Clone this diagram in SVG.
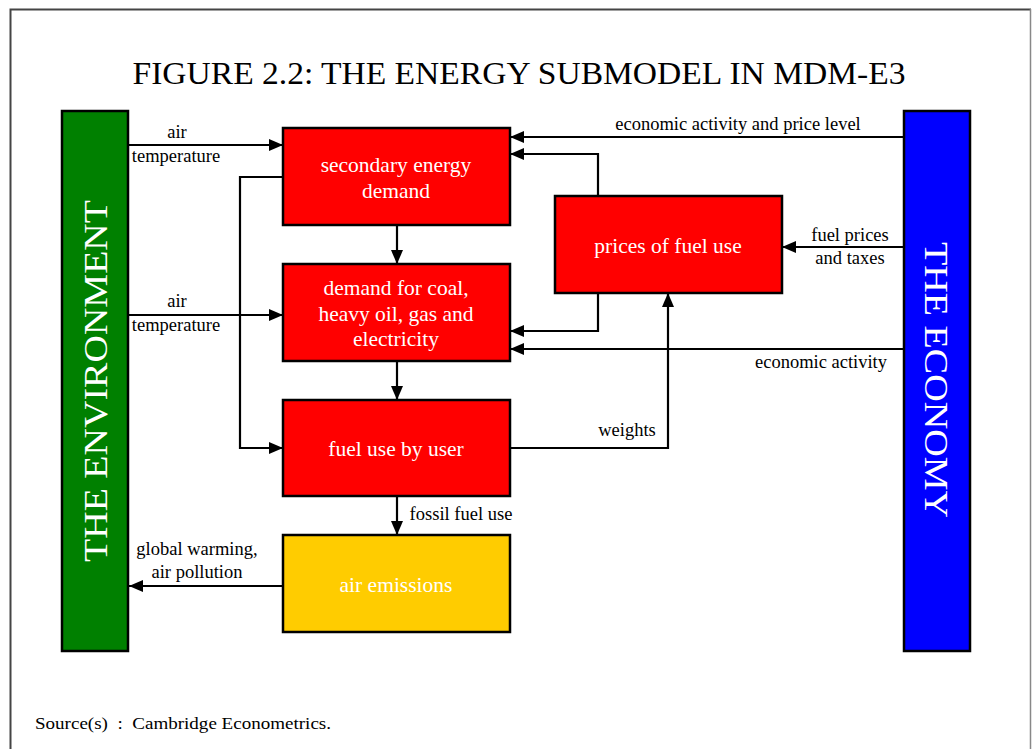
<svg xmlns="http://www.w3.org/2000/svg" width="1032" height="749" viewBox="0 0 1032 749">
<style>
.lbl{font-family:"Liberation Serif","Times New Roman",serif;font-size:18.5px;fill:#000;text-anchor:middle}
.box{stroke:#000;stroke-width:2.5}
.btxt{font-family:"Liberation Serif","Times New Roman",serif;font-size:21.5px;fill:#fff;text-anchor:middle}
.bar{font-family:"Liberation Serif","Times New Roman",serif;font-size:34px;fill:#fff;text-anchor:middle}
.ln{fill:none;stroke:#000;stroke-width:2.2}
</style>
<defs>
<marker id="ah" viewBox="0 0 14 12" refX="14" refY="6" markerWidth="14" markerHeight="12" markerUnits="userSpaceOnUse" orient="auto">
<path d="M0,0 L14,6 L0,12 Z" fill="#000"/>
</marker>
</defs>
<rect x="0" y="0" width="1032" height="749" fill="#fff"/>
<path d="M10.5,749 V9.5 H1031" fill="none" stroke="#444" stroke-width="2"/>
<line x1="1030.5" y1="9" x2="1030.5" y2="749" stroke="#888" stroke-width="1.5"/>
<text x="519" y="84" font-family="Liberation Serif, Times New Roman, serif" font-size="31" text-anchor="middle" textLength="773" lengthAdjust="spacingAndGlyphs">FIGURE 2.2: THE ENERGY SUBMODEL IN MDM-E3</text>

<g id="environment">
<rect x="62" y="111" width="66" height="540" fill="#008000" class="box"/>
<text class="bar" transform="translate(107,381) rotate(-90)" textLength="362" lengthAdjust="spacingAndGlyphs">THE ENVIRONMENT</text>
</g>
<g id="economy">
<rect x="904" y="111" width="66" height="540" fill="#0000ff" class="box"/>
<text class="bar" transform="translate(925,380) rotate(90)" textLength="276" lengthAdjust="spacingAndGlyphs">THE ECONOMY</text>
</g>
<g id="secondary">
<rect x="283" y="128" width="227" height="97" fill="#ff0000" class="box"/>
<text class="btxt" x="396" y="172">secondary energy</text>
<text class="btxt" x="396" y="198">demand</text>
</g>
<g id="demand">
<rect x="283" y="264" width="227" height="97" fill="#ff0000" class="box"/>
<text class="btxt" x="396" y="295">demand for coal,</text>
<text class="btxt" x="396" y="321">heavy oil, gas and</text>
<text class="btxt" x="396" y="346">electricity</text>
</g>
<g id="fueluse">
<rect x="283" y="400" width="227" height="96" fill="#ff0000" class="box"/>
<text class="btxt" x="396" y="456">fuel use by user</text>
</g>
<g id="emissions">
<rect x="283" y="535" width="227" height="97" fill="#ffcc00" class="box"/>
<text class="btxt" x="396" y="592">air emissions</text>
</g>
<g id="prices">
<rect x="555" y="196" width="227" height="97" fill="#ff0000" class="box"/>
<text class="btxt" x="668" y="253">prices of fuel use</text>
</g>

<g id="connectors">
<path class="ln" d="M128,145 H283" marker-end="url(#ah)"/>
<path class="ln" d="M128,315 H283" marker-end="url(#ah)"/>
<path class="ln" d="M283,177 H240 V448 H283" marker-end="url(#ah)"/>
<path class="ln" d="M397,225 V264" marker-end="url(#ah)"/>
<path class="ln" d="M397,361 V400" marker-end="url(#ah)"/>
<path class="ln" d="M397,496 V535" marker-end="url(#ah)"/>
<path class="ln" d="M283,586 H129" marker-end="url(#ah)"/>
<path class="ln" d="M904,137 H510" marker-end="url(#ah)"/>
<path class="ln" d="M598,196 V154 H510" marker-end="url(#ah)"/>
<path class="ln" d="M598,293 V331 H510" marker-end="url(#ah)"/>
<path class="ln" d="M904,349 H510" marker-end="url(#ah)"/>
<path class="ln" d="M904,247 H782" marker-end="url(#ah)"/>
<path class="ln" d="M510,448 H668 V293" marker-end="url(#ah)"/>
</g>

<g id="labels">
<text class="lbl" x="177" y="138">air</text>
<text class="lbl" x="176" y="162">temperature</text>
<text class="lbl" x="177" y="307">air</text>
<text class="lbl" x="176" y="331">temperature</text>
<text class="lbl" x="461" y="520">fossil fuel use</text>
<text class="lbl" x="197" y="555">global warming,</text>
<text class="lbl" x="197" y="578">air pollution</text>
<text class="lbl" x="738" y="130">economic activity and price level</text>
<text class="lbl" x="850" y="241">fuel prices</text>
<text class="lbl" x="850" y="264">and taxes</text>
<text class="lbl" x="821" y="368">economic activity</text>
<text class="lbl" x="627" y="436">weights</text>
</g>
<text x="35" y="729" font-family="Liberation Serif, Times New Roman, serif" font-size="16" textLength="296" lengthAdjust="spacingAndGlyphs" xml:space="preserve">Source(s)  :  Cambridge Econometrics.</text>
</svg>
